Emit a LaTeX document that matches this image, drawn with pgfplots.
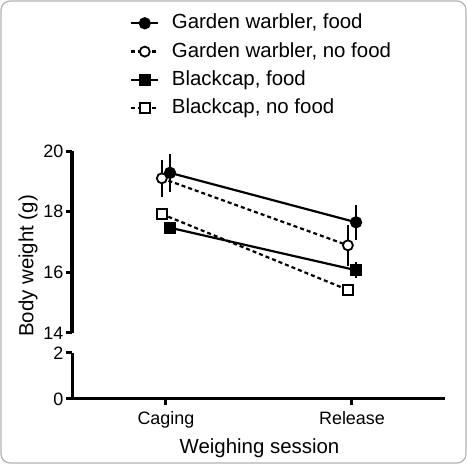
\documentclass[border=0pt]{standalone}
\usepackage{pgfplots}
\pgfplotsset{compat=1.18}
\usepackage{fontspec}
\setmainfont{Liberation Sans}
\begin{document}
\begin{tikzpicture}
\useasboundingbox (0,0) rectangle (467bp,464bp);
\draw[gray!60, line width=1.2bp, rounded corners=9bp] (1bp,1bp) rectangle (466bp,463bp);
\begin{axis}[scale only axis, width=373bp, xmin=-0.505, xmax=1.5,
  axis x line=bottom, axis y line=left,
  axis line style={black, line width=3bp, -},
  major tick style={black, line width=3bp},
  tick align=outside, major tick length=6bp,
  /pgf/number format/assume math mode=true,
  tick label style={font=\fontsize{18}{18}\selectfont},
  yticklabel style={inner sep=2.5bp},
  xticklabel style={yshift=-3bp},
  at={(72bp,65bp)}, anchor=south west, height=46bp,
  ymin=0, ymax=2, ytick={0,2},
  xtick={0,1}, xticklabels={Caging,Release}]
\end{axis}
\begin{axis}[scale only axis, width=373bp, xmin=-0.505, xmax=1.5,
  axis y line=left, axis x line=none,
  axis line style={black, line width=3bp, -},
  major tick style={black, line width=3bp},
  tick align=outside, major tick length=6bp,
  /pgf/number format/assume math mode=true,
  tick label style={font=\fontsize{18}{18}\selectfont},
  yticklabel style={inner sep=2.5bp},
  at={(72bp,131bp)}, anchor=south west, height=182bp,
  ymin=14, ymax=20, ytick={14,16,18,20},
  clip=false,
  legend cell align=left,
  legend image code/.code={
    \draw[mark repeat=2,mark phase=2,#1] plot coordinates {(0bp,0bp) (13.5bp,0bp) (27bp,0bp)};
  },
  legend style={draw=none, fill=none, inner sep=0pt, anchor=north west,
    at={(axis description cs:0.1555,1.766)},
    font=\fontsize{20.5}{24}\selectfont,
    nodes={text height=15bp, text depth=4bp, inner sep=2bp},
    row sep=5.3bp,
    /tikz/every odd column/.append style={column sep=10.5bp}},
]
\addplot[black, line width=2.2bp, mark=*, mark size=5bp,
  error bars/.cd, y dir=both, y explicit, error mark=none,
  error bar style={line width=2.2bp, solid}]
  coordinates {(0.022,19.28) +- (0,0.62) (1.022,17.65) +- (0,0.57)};
\addlegendentry{Garden warbler, food}
\addplot[black, line width=2.2bp, dash pattern=on 4bp off 3bp, mark=*, mark size=5bp,
  mark options={solid, fill=white, line width=1.8bp},
  error bars/.cd, y dir=both, y explicit, error mark=none,
  error bar style={line width=2.2bp, solid}]
  coordinates {(-0.022,19.10) +- (0,0.60) (0.978,16.89) +- (0,0.68)};
\addlegendentry{Garden warbler, no food}
\addplot[black, line width=2.2bp, mark=square*, mark size=5bp,
  error bars/.cd, y dir=both, y explicit, error mark=none,
  error bar style={line width=2.2bp, solid}]
  coordinates {(0.022,17.47) +- (0,0.20) (1.022,16.07) +- (0,0.27)};
\addlegendentry{Blackcap, food}
\addplot[black, line width=2.2bp, dash pattern=on 4bp off 3bp, mark=square*, mark size=5bp,
  mark options={solid, fill=white, line width=1.8bp},
  error bars/.cd, y dir=both, y explicit, error mark=none,
  error bar style={line width=2.2bp, solid}]
  coordinates {(-0.022,17.92) +- (0,0.10) (0.978,15.42) +- (0,0.10)};
\addlegendentry{Blackcap, no food}
\end{axis}
\node[rotate=90, font=\fontsize{20.5}{24}\selectfont] at (28bp,198bp) {Body weight (g)};
\node[anchor=base, font=\fontsize{20.5}{24}\selectfont] at (259.5bp,11bp) {Weighing session};
\end{tikzpicture}
\end{document}
